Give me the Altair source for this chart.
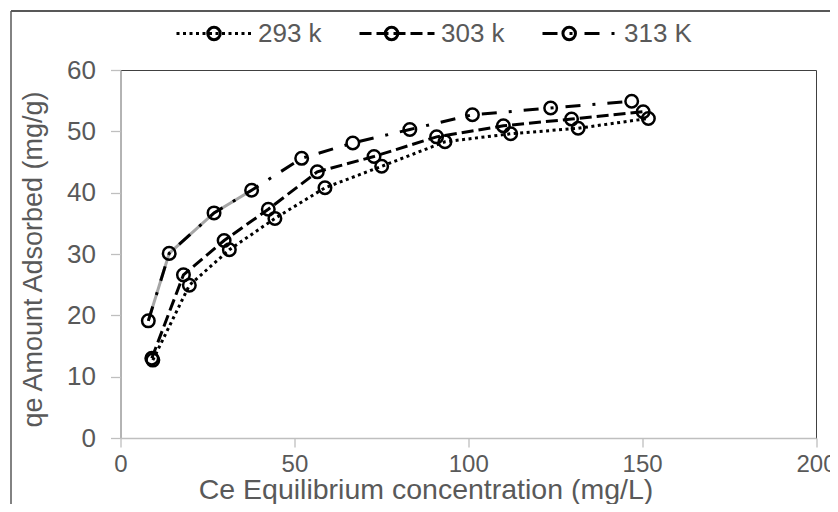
import altair as alt
import pandas as pd

# ---------------- data ----------------
series_names = ["293 k", "303 k", "313 K"]

ce_293 = [9.3, 19.8, 31.3, 44.4, 58.8, 75.1, 93.3, 112.2, 131.6, 151.8]
qe_293 = [12.7, 24.9, 30.7, 35.8, 40.8, 44.3, 48.3, 49.6, 50.5, 52.1]

ce_303 = [9.0, 18.1, 29.8, 42.5, 56.6, 72.9, 90.9, 110.1, 129.7, 150.3]
qe_303 = [13.0, 26.6, 32.2, 37.3, 43.4, 45.9, 49.1, 50.9, 52.0, 53.2]

ce_313 = [8.0, 14.0, 26.9, 37.7, 52.1, 66.8, 83.2, 101.2, 123.7, 147.0]
qe_313 = [19.1, 30.1, 36.7, 40.4, 45.6, 48.1, 50.3, 52.7, 53.8, 54.9]

x_ticks = [0, 50, 100, 150, 200]
y_ticks = [0, 10, 20, 30, 40, 50, 60]

rows = []
for name, xs, ys in zip(series_names, [ce_293, ce_303, ce_313], [qe_293, qe_303, qe_313]):
    for i, (xv, yv) in enumerate(zip(xs, ys)):
        rows.append({"series": name, "series2": name, "idx": i, "ce": xv, "qe": yv})
df = pd.DataFrame(rows)
gray_part = df[(df["series"] == "313 K") & (df["idx"] <= 3)]

FONT = "Liberation Sans"
TXT = "#595959"

x_enc = alt.X("ce:Q", scale=alt.Scale(domain=[0, 200], nice=False),
              axis=alt.Axis(values=x_ticks, title="Ce Equilibrium  concentration (mg/L)",
                            titleFontSize=28.5, titleX=305, titleY=60, titleBaseline="alphabetic",
                            titleAlign="center", tickSize=9, labelPadding=5, labelFontSize=24,
                            labelFlush=False))
y_enc = alt.Y("qe:Q", scale=alt.Scale(domain=[0, 60], nice=False),
              axis=alt.Axis(values=y_ticks, title="qe Amount Adsorbed (mg/g)",
                            titleFontSize=27, titleX=-87, titleY=189, titleBaseline="middle",
                            titleAlign="center", titleAngle=-90, tickSize=10, labelPadding=15,
                            labelFlush=False))

dash_ranges = [[3, 3.5], [12, 5], [15, 12, 3, 12]]
circle_path = "M-0.167,0A0.167,0.167,0,1,1,0.167,0A0.167,0.167,0,1,1,-0.167,0Z"

common_legend = dict(title=None, orient="none", legendX=54.5, legendY=-75.5,
                     direction="horizontal", columns=3, symbolSize=5625, symbolStrokeWidth=3,
                     labelFontSize=26, labelFont=FONT, labelColor=TXT, labelOffset=5,
                     padding=0)

gray_line = alt.Chart(gray_part).mark_line(color="#a6a6a6", strokeWidth=3).encode(
    x=x_enc, y=y_enc, order="idx:Q")

lines = alt.Chart(df).mark_line(color="black", strokeWidth=3).encode(
    x=x_enc, y=y_enc, order="idx:Q",
    strokeDash=alt.StrokeDash("series:N",
                              scale=alt.Scale(domain=series_names, range=dash_ranges),
                              legend=alt.Legend(symbolType="stroke", columnPadding=31,
                                                **common_legend)))

points = alt.Chart(df).mark_point(filled=False, color="black", strokeWidth=2.5, size=5625,
                                  opacity=1).encode(
    x=x_enc, y=y_enc,
    shape=alt.Shape("series2:N", scale=alt.Scale(range=[circle_path] * 3),
                    legend=alt.Legend(labelExpr="''", columnPadding=94.6,
                                      symbolFillColor="transparent",
                                      symbolStrokeColor="black", **common_legend)))

frame_data = alt.Data(values=[{"k": 1}])
frame_top = alt.Chart(frame_data).mark_rule(color="#202020", strokeWidth=1.5).encode(
    x=alt.value(-109.5), x2=alt.value(720), y=alt.value(-59))
frame_left = alt.Chart(frame_data).mark_rule(color="#595959", strokeWidth=1.5).encode(
    x=alt.value(-109.5), y=alt.value(-59), y2=alt.value(440))

chart = alt.layer(gray_line, lines, points, frame_top, frame_left).resolve_scale(
    strokeDash="independent", shape="independent"
).properties(
    width=695.5, height=368,
    autosize=alt.AutoSizeParams(type="none"),
    padding={"left": 112.5, "top": 62, "right": 14, "bottom": 66},
).configure_view(
    stroke="#404040", strokeWidth=1
).configure_axis(
    grid=False, domainColor="#bfbfbf", domainWidth=1.3, tickColor="#bfbfbf", tickWidth=1.3,
    labelFont=FONT, labelFontSize=26, labelColor=TXT,
    titleFont=FONT, titleColor=TXT, titleFontWeight="normal"
)

chart.save("out.html", embed_options={"renderer": "svg", "actions": False})
